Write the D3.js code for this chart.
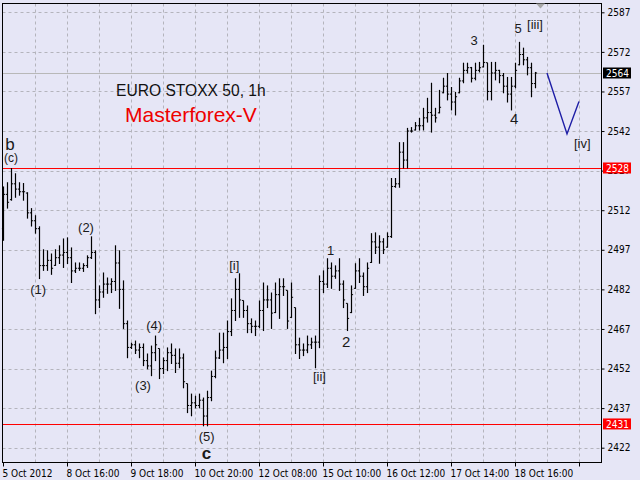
<!DOCTYPE html>
<html><head><meta charset="utf-8">
<script src="https://cdn.jsdelivr.net/npm/d3@7"></script>
<style>
html,body{margin:0;padding:0;background:#e6e6f6;}
svg{display:block;font-family:"Liberation Sans",Arial,sans-serif;}
</style></head>
<body>
<svg id="chart" width="640" height="480"></svg>
<script>
// ---- data ----
const highs = [2521,2522.6,2528,2526,2522.6,2522.3,2518.8,2512.8,2510.1,2505.9,
2497.2,2496.8,2495.6,2497.2,2498.7,2501.3,2501.7,2497.9,2492.2,2492.2,
2491.9,2494.9,2502.1,2496.8,2483.5,2488.4,2486.5,2486.2,2498.7,2496.8,
2485.4,2470.2,2461.8,2462.6,2461.5,2461.5,2457.7,2460.7,2464.5,2459.6,
2456.2,2460,2461.5,2459.6,2459.6,2457.7,2446.3,2442.5,2441.7,2442.5,
2441,2443.6,2451.2,2458.8,2465.6,2465.6,2470.2,2478.6,2486.2,2488.1,
2477.8,2475.9,2471,2470.2,2477.8,2484.6,2483.5,2480.8,2484.6,2486.2,
2486.2,2481.6,2484.6,2475.1,2463.7,2461.5,2464.5,2463.7,2464.5,2487.3,
2489.2,2493.8,2492.2,2491.1,2493.8,2485.4,2476.7,2483.5,2491.9,2493.8,
2488.4,2492.2,2503.3,2503.6,2502.5,2501.4,2503.6,2524.2,2524.2,2537.8,
2537.8,2543.2,2543.5,2545.4,2547,2550.8,2554.6,2560.3,2550.8,2557.6,
2562.2,2564,2558.7,2556.8,2562.2,2567.9,2567.9,2566.3,2567.9,2568.2,
2574.7,2567.9,2568.2,2568.2,2565.2,2564,2562.5,2562.5,2567.9,2575.8,
2573.6,2570.1,2567.9,2564.4];
const lows = [2500.6,2512.8,2515.8,2516.9,2517.7,2515.8,2509,2506,2503.3,2486.1,
2489.2,2489.2,2487.7,2491.1,2491.8,2490.3,2491.8,2484.6,2488.4,2489.2,
2488.8,2490.3,2493.7,2472.8,2475.1,2479,2480.5,2480.8,2481.6,2474.8,
2467.2,2456.1,2459.6,2457.7,2456.1,2453.1,2451.9,2449.3,2455,2448.2,
2450.1,2451.2,2453.9,2450.5,2452.3,2444.7,2435.3,2434.1,2437.1,2437.1,
2430.3,2430.3,2439.8,2448.5,2455.8,2454.2,2455.8,2464.5,2470.2,2471.4,
2471.4,2465.6,2465.6,2464.5,2467.5,2466.4,2475.1,2467.2,2473.2,2471,
2479.7,2467.2,2471.4,2457.7,2455.8,2456.9,2458,2459.6,2452.3,2459.9,
2480.8,2482.7,2482.4,2486.2,2481.6,2475.1,2466.4,2473.2,2482.4,2484.6,
2479.7,2480.8,2492.2,2495.6,2491.9,2495.6,2498,2501.7,2520.7,2520.7,
2528,2528,2541.6,2542.4,2542.4,2542.4,2545.4,2541.6,2545.4,2548.9,
2556.5,2553.8,2550,2548.1,2556.5,2560.3,2564,2560.6,2561.4,2564.4,
2566.3,2553.8,2553.8,2561.4,2560.3,2556.5,2553,2550,2558.4,2567.1,
2567.1,2563.3,2555,2558.4];
const opens = [2505,2518,2516,2522,2520,2519,2518.5,2511,2508,2505,
2491,2491,2493,2491.1,2494,2495,2496,2494,2489,2490,
2490,2491,2494,2496,2478,2481,2484,2484,2485,2492,
2482,2469,2460,2461,2459,2460,2455,2453,2458,2459.6,
2452,2455,2458,2457,2454,2456,2446.3,2438,2439,2438,
2440,2434,2441,2449,2456,2459,2460,2466,2474,2482,
2477.8,2474,2469,2468,2468,2474,2478,2478,2473.2,2480,
2483,2481.6,2471.4,2475.1,2461,2459,2459,2461,2462,2462,
2485,2484,2490,2487,2489,2484,2476.7,2473.2,2482.4,2489,
2487,2483,2492.2,2500,2498,2500,2498,2502,2521,2522,
2534,2531,2542,2542.4,2544,2544,2547,2549,2548,2548.9,
2556.5,2559,2556,2553,2556.5,2561,2565,2566,2562,2565,
2566.3,2567.9,2557,2564,2565,2563,2559,2556,2559,2567.1,
2571,2569,2566,2560];
const closes = [2518,2515,2522,2520,2519,2519,2511,2508,2505,2491,
2491,2493,2490,2494,2495,2496,2494,2489,2490,2490,
2491,2494,2496,2478,2481,2484,2484,2485,2492,2482,
2469,2460,2461,2459,2460,2455,2453,2458,2461,2452,
2455,2458,2457,2454,2456,2447,2438,2439,2438,2440,
2434,2441,2449,2456,2459,2460,2466,2474,2482,2478,
2474,2469,2468,2468,2474,2478,2478,2473,2480,2483,
2483,2470,2479,2461,2459,2459,2461,2462,2462,2485,
2484,2490,2487,2489,2484,2478,2471,2480,2489,2487,
2483,2490,2500,2498,2500,2497,2502,2521,2522,2534,
2531,2542,2542,2544,2544,2547,2549,2548,2547,2551,
2559,2556,2553,2555,2561,2565,2566,2562,2565,2566,
2568,2557,2564,2565,2563,2559,2556,2559,2565,2571,
2569,2566,2560,2564];

const yTicks = [2422,2437,2452,2467,2482,2497,2512,2527,2542,2557,2572,2587];
const xTickBars = [0,16,32,48,64,80,96,112,128,144];
const xTickLabels = ["5 Oct 2012","8 Oct 16:00","9 Oct 18:00","10 Oct 20:00","12 Oct 08:00",
  "15 Oct 10:00","16 Oct 12:00","17 Oct 14:00","18 Oct 16:00",""];

const levelPrices = [2528, 2431];   // red horizontal levels
const lastPrice = 2564;
const forecastBars = [136, 141, 144];
const forecastPrices = [2564, 2540.9, 2553.2];

const waveText  = ["b","(c)","(1)","(2)","(3)","(4)","(5)","c","[i]","[ii]","1","2","3","4","5","[iii]","[iv]"];
const waveBar   = [1.75,2,8.8,20.75,35,37.8,50.9,50.9,57.8,79.1,81.9,85.8,117.8,127.8,128.8,133,144.8];
const wavePrice = [2537.0,2531.6,2481.8,2505.3,2445.4,2468.3,2426.2,2419.8,2490.9,2448.8,2496.9,2462.2,2576.4,2546.7,2580.8,2582.4,2537.2];
const waveSize  = [17,12,13,13,13,13,13,17,13,13,13,15,13,15,13,13,13];
const waveBold  = [false,false,false,false,false,false,false,true,false,false,false,false,false,false,false,false,false];

// ---- drawing ----
const svg = d3.select("#chart");
const L = 2.5, R = 601.5, T = 3.5, B = 462.5;
const x = d3.scaleLinear().domain([0, 149.75]).range([3, 602]);
const y = d3.scaleLinear().domain([2422, 2587]).range([447.7, 12.3]);

svg.append("rect").attr("width",640).attr("height",480).attr("fill","#e6e6f6");

// grid
const gridBars = d3.range(0, 150, 8);
svg.append("g").selectAll("line").data(gridBars.slice(1)).join("line")
  .attr("x1", d => Math.round(x(d)) + 0.5).attr("x2", d => Math.round(x(d)) + 0.5)
  .attr("y1", T).attr("y2", B)
  .attr("stroke","#b4b4bc").attr("stroke-dasharray","3,3");
svg.append("g").selectAll("line").data(yTicks).join("line")
  .attr("x1", L).attr("x2", R)
  .attr("y1", d => Math.round(y(d)) + 0.5).attr("y2", d => Math.round(y(d)) + 0.5)
  .attr("stroke","#b4b4bc").attr("stroke-dasharray","3,3");

// last price line
svg.append("line").attr("x1",L).attr("x2",R)
  .attr("y1", Math.round(y(lastPrice))+0.5).attr("y2", Math.round(y(lastPrice))+0.5)
  .attr("stroke","#b8b8b8");

// red levels
svg.append("g").selectAll("line").data(levelPrices).join("line")
  .attr("x1", L).attr("x2", R)
  .attr("y1", d => Math.round(y(d)) + 0.5).attr("y2", d => Math.round(y(d)) + 0.5)
  .attr("stroke","#ff0000").attr("stroke-width",1.2);

// OHLC bars
const bars = highs.map((h,i) => ({i, h, l: lows[i], o: opens[i], c: closes[i]}));
const gb = svg.append("g").attr("stroke","#000").attr("stroke-width",1.2);
bars.forEach(d => {
  const cx = Math.round(x(d.i)) + 0.5;
  gb.append("line").attr("x1",cx).attr("x2",cx).attr("y1",y(d.h)).attr("y2",y(d.l)+0.5);
  gb.append("line").attr("x1",cx-1.6).attr("x2",cx).attr("y1",y(d.o)).attr("y2",y(d.o)).attr("stroke-width",1);
  gb.append("line").attr("x1",cx).attr("x2",cx+1.6).attr("y1",y(d.c)).attr("y2",y(d.c)).attr("stroke-width",1);
});

// forecast line
svg.append("path")
  .datum(forecastBars.map((b,i) => [b, forecastPrices[i]]))
  .attr("fill","none").attr("stroke","#1e1ea6").attr("stroke-width",1.4)
  .attr("d", d3.line().x(d => x(d[0])).y(d => y(d[1])));

// frame
svg.append("rect").attr("x",L).attr("y",T).attr("width",R-L).attr("height",B-T)
  .attr("fill","none").attr("stroke","#000");

// shift marker
svg.append("path").attr("d","M536,3.5 L545,3.5 L540.5,8.5 Z").attr("fill","#a8a8a8");

// y axis
const yAxis = d3.axisRight(y).tickValues(yTicks).tickSize(3).tickPadding(3).tickFormat(d3.format("d"));
const gy = svg.append("g").attr("transform",`translate(${R},0)`).call(yAxis);
gy.select(".domain").remove();
gy.selectAll("text").attr("font-size","10px").attr("fill","#000")
  .attr("font-family","'DejaVu Sans Condensed','Liberation Sans',sans-serif");
gy.selectAll("line").attr("stroke","#000");

// x axis
const xAxis = d3.axisBottom(x).tickValues(xTickBars).tickSize(4).tickPadding(3)
  .tickFormat((d,i) => xTickLabels[i]);
const gx = svg.append("g").attr("transform",`translate(0,${B})`).call(xAxis);
gx.select(".domain").remove();
gx.selectAll("text").attr("font-size","10px").attr("fill","#000").attr("text-anchor","start")
  .attr("dx","-1").attr("font-family","'DejaVu Sans Condensed','Liberation Sans',sans-serif");
gx.selectAll("line").attr("stroke","#000");

// price boxes
const boxes = [{p:levelPrices[0],bg:"#ff0000"},{p:levelPrices[1],bg:"#ff0000"},{p:lastPrice,bg:"#000"}];
boxes.forEach(b => {
  const yy = y(b.p);
  svg.append("rect").attr("x",603).attr("y",yy-5.5).attr("width",28).attr("height",11).attr("fill",b.bg);
  svg.append("text").attr("x",606).attr("y",yy+3.6).attr("fill","#fff").attr("font-size","10px")
    .attr("font-family","'DejaVu Sans Condensed','Liberation Sans',sans-serif").text(b.p);
});

// titles
svg.append("text").attr("x",116).attr("y",96).attr("font-size","15.6px").attr("fill","#111")
  .text("EURO STOXX 50, 1h");
svg.append("text").attr("x",125).attr("y",122).attr("font-size","21px").attr("fill","#ee0000")
  .text("Masterforex-V");

// wave labels
svg.append("g").selectAll("text").data(waveText).join("text")
  .attr("x",(d,i) => x(waveBar[i])).attr("y",(d,i) => y(wavePrice[i]))
  .attr("text-anchor","middle").attr("dominant-baseline","central")
  .attr("font-size",(d,i) => waveSize[i] + "px")
  .attr("font-weight",(d,i) => waveBold[i] ? "bold" : "normal")
  .attr("fill","#1a1a1a").text(d => d);
</script>
</body></html>
